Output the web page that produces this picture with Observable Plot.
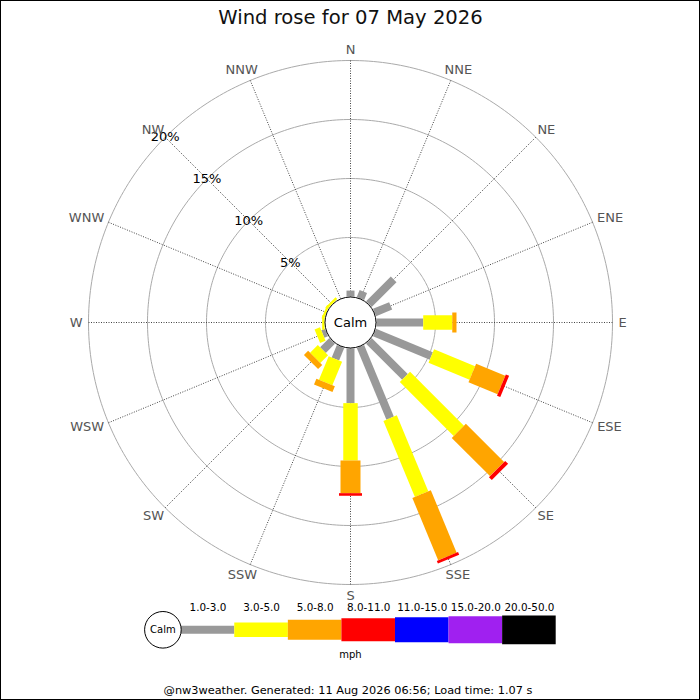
<!DOCTYPE html>
<html><head><meta charset="utf-8">
<script src="https://cdn.jsdelivr.net/npm/d3@7"></script>
<script src="https://cdn.jsdelivr.net/npm/@observablehq/plot@0.6"></script>
<style>
html,body{margin:0;padding:0;background:#fff;}
#wrap{position:relative;width:700px;height:700px;overflow:hidden;font-family:"DejaVu Sans",sans-serif;}
#main{position:absolute;left:0;top:0;}
#legend{position:absolute;left:0;top:590px;}
#footer{position:absolute;left:0;top:684px;width:696px;text-align:center;font-size:11.3px;line-height:13px;color:#000;white-space:nowrap;}
#frame{position:absolute;left:0;top:0;width:700px;height:700px;border:1px solid #000;box-sizing:border-box;pointer-events:none;}
svg{display:block;}
</style></head>
<body><div id="wrap"><div id="main"></div><div id="legend"></div><div id="footer"></div><div id="frame"></div></div>
<script>
// ---- data ----
const directions = ["N","NNE","NE","ENE","E","ESE","SE","SSE","S","SSW","SW","WSW","W","WNW","NW","NNW"];
const speedClasses = ["1.0-3.0","3.0-5.0","5.0-8.0","8.0-11.0","11.0-15.0","15.0-20.0","20.0-50.0"];
const classColors = ["#999999","#ffff00","#ffa500","#ff0000","#0000ff","#a020f0","#000000"];
// percentage of time per direction, by speed class (mph)
const spd_1_3   = [0.5,0.64,2.97,1.48,3.96,5.21,4.32,6.57,4.63,1.14,1.10,0.34,0,0,0,0];
const spd_3_5   = [0,0,0,0,2.46,3.76,6.46,6.97,4.86,2.16,0.93,0.50,0.2,0.2,0.2,0];
const spd_5_8   = [0,0,0,0,0.36,2.67,4.58,5.72,2.77,0.53,0.50,0,0,0,0,0];
const spd_8_11  = [0,0,0,0,0,0.30,0.35,0.25,0.22,0,0,0,0,0,0,0];
const spd_11_15 = [0,0,0,0,0,0,0,0,0,0,0,0,0,0,0,0];
const spd_15_20 = [0,0,0,0,0,0,0,0,0,0,0,0,0,0,0,0];
const spd_20_50 = [0,0,0,0,0,0,0,0,0,0,0,0,0,0,0,0];
const ringTicks = [5,10,15,20];
const ringLabels = ["5%","10%","15%","20%"];
const titleText = "Wind rose for 07 May 2026";
const calmText = "Calm";
const unitsText = "mph";
const footerText = "@nw3weather. Generated: 11 Aug 2026 06:56; Load time: 1.07 s";

const series = [spd_1_3, spd_3_5, spd_5_8, spd_8_11, spd_11_15, spd_15_20, spd_20_50];

// ---- layout / style ----
const W = 700, H = 600, cx = 350, cy = 322;
const k = 11.8;               // px per percent
const calmR = 25.5;           // px
const r0 = 26 / k;            // radial offset (calm hole) in percent units
const R = p => r0 + p;
const rad = i => i * 22.5 * Math.PI / 180;
const barW = [8, 14.5, 20, 23, 25, 27, 28.7];
const fontFam = "DejaVu Sans";

// stacked segments
const segs = [];
directions.forEach((d, i) => {
  let cum = 0;
  series.forEach((s, j) => {
    const v = s[i];
    if (v > 0) segs.push({dir: i, cls: j, a: cum, b: cum + v});
    cum += v;
  });
});

// ring outline points
const ringPts = ringTicks.flatMap(t => d3.range(0, 361, 1).map(deg => ({t, a: deg * Math.PI / 180})));

// text widths for direction labels
const ctx = document.createElement("canvas").getContext("2d");
ctx.font = `13px "${fontFam}"`;
const labW = directions.map(d => ctx.measureText(d).width);
const labX = (d, i) => ((268 + labW[i] / 2) / k) * Math.sin(rad(i));
const labY = (d, i) => (273 / k) * Math.cos(rad(i));

const sx = (r, i) => r * Math.sin(rad(i));
const sy = (r, i) => r * Math.cos(rad(i));
const nwA = 315 * Math.PI / 180;

const barMarks = series.map((s, j) => Plot.link(segs.filter(g => g.cls === j), {
  x1: g => sx(R(g.a), g.dir), y1: g => sy(R(g.a), g.dir),
  x2: g => sx(R(g.b), g.dir), y2: g => sy(R(g.b), g.dir),
  stroke: classColors[j], strokeWidth: barW[j], strokeLinecap: "butt"
}));

const main = Plot.plot({
  width: W, height: H, margin: 0,
  style: {fontFamily: fontFam, fontSize: "13px", background: "transparent", overflow: "visible"},
  x: {domain: [-cx / k, (W - cx) / k], range: [0, W], axis: null},
  y: {domain: [-(H - cy) / k, cy / k], range: [H, 0], axis: null},
  marks: [
    Plot.line(ringPts, {x: d => R(d.t) * Math.sin(d.a), y: d => R(d.t) * Math.cos(d.a), z: "t", stroke: "#aaaaaa", strokeWidth: 1, curve: "linear"}),
    Plot.link(directions, {
      x1: (d, i) => sx(R(0), i), y1: (d, i) => sy(R(0), i),
      x2: (d, i) => sx(R(20), i), y2: (d, i) => sy(R(20), i),
      stroke: "#444", strokeWidth: 1, strokeDasharray: "1,1.5"
    }),
    ...barMarks,
    Plot.dot([0], {x: 0, y: 0, r: calmR, fill: "white", stroke: "black", strokeWidth: 1}),
    Plot.text([calmText], {x: 0, y: 0, text: d => d, fontSize: 13, fill: "black", textAnchor: "middle", lineAnchor: "middle"}),
    Plot.text(ringTicks, {x: t => R(t) * Math.sin(nwA), y: t => R(t) * Math.cos(nwA), text: (t, i) => ringLabels[i], fontSize: 13, fill: "black", textAnchor: "middle", lineAnchor: "middle"}),
    Plot.text(directions, {x: labX, y: labY, text: d => d, fontSize: 13, fill: "#555", textAnchor: "middle", lineAnchor: "middle"}),
    Plot.text([titleText], {frameAnchor: "top", dy: 17, text: d => d, fontSize: 19.6, fill: "#111", textAnchor: "middle", lineAnchor: "middle"})
  ]
});
document.getElementById("main").appendChild(main);

// ---- legend ----
const legLeft = 180.7, legRight = 555.7, legY = 629.3, calmLR = 18.3;
const bw = (legRight - legLeft) / speedClasses.length;
const legMid = ((legLeft - 2 * calmLR) + legRight) / 2;
const frameMid = (legLeft + legRight) / 2;
const legend = Plot.plot({
  width: W, height: 110, marginTop: 0, marginBottom: 0, marginLeft: legLeft, marginRight: W - legRight,
  style: {fontFamily: fontFam, fontSize: "10.4px", background: "transparent", overflow: "visible"},
  x: {type: "band", domain: speedClasses, padding: 0, align: 0, round: false, axis: null},
  y: {domain: [590, 700], range: [0, 110], axis: null},
  marks: [
    ...speedClasses.map((c, j) => Plot.tickY([c], {x: d => d, y: legY, stroke: classColors[j], strokeWidth: barW[j], strokeLinecap: "butt"})),
    Plot.text(speedClasses, {x: d => d, y: 607.6, text: d => d, fontSize: 10.4, fill: "black", textAnchor: "middle", lineAnchor: "middle"}),
    Plot.dot([speedClasses[0]], {x: d => d, y: legY, r: calmLR, dx: -(bw / 2 + calmLR), fill: "white", stroke: "black", strokeWidth: 1}),
    Plot.text([calmText], {x: () => speedClasses[0], y: legY, dx: -(bw / 2 + calmLR), text: d => d, fontSize: 10, fill: "black", textAnchor: "middle", lineAnchor: "middle"}),
    Plot.text([unitsText], {frameAnchor: "middle", y: 654, dx: legMid - frameMid, text: d => d, fontSize: 10, fill: "black", textAnchor: "middle", lineAnchor: "middle"})
  ]
});
document.getElementById("legend").appendChild(legend);
document.getElementById("footer").textContent = footerText;
</script>
</body></html>
